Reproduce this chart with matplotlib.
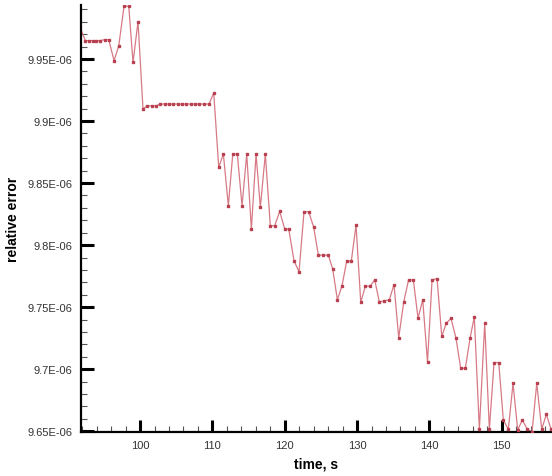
import numpy as np
import matplotlib
matplotlib.use("Agg")
import matplotlib.pyplot as plt
from matplotlib.ticker import MultipleLocator

plt.rcParams['font.family'] = ['Liberation Sans', 'DejaVu Sans']

# time, s
time_s = [91.55, 92.44, 92.95, 93.46, 93.96, 94.47, 95.12, 95.67, 96.41, 97.06,
          97.79, 98.44, 99.03, 99.72, 100.41, 101.01, 101.62, 102.21, 102.81, 103.41,
          104.01, 104.60, 105.21, 105.81, 106.40, 107.01, 107.60, 108.20, 108.81, 109.54,
          110.19, 110.88, 111.52, 112.21, 112.82, 113.45, 114.10, 114.75, 115.39, 116.04,
          116.63, 117.32, 118.01, 118.62, 119.31, 120.00, 120.56, 121.29, 121.98, 122.67,
          123.32, 124.01, 124.65, 125.34, 126.03, 126.64, 127.28, 127.92, 128.57, 129.21,
          129.86, 130.51, 131.15, 131.80, 132.44, 133.08, 133.73, 134.46, 135.11, 135.76,
          136.45, 137.12, 137.78, 138.43, 139.08, 139.74, 140.37, 141.06, 141.71, 142.34,
          142.99, 143.68, 144.33, 144.97, 145.62, 146.21, 146.91, 147.65, 148.29, 148.94,
          149.59, 150.22, 150.91, 151.56, 152.21, 152.85, 153.54, 154.19, 154.84, 155.53,
          156.17, 156.82]

# relative error, in units of 1E-06
rel_err_e6 = [9.9780, 9.9648, 9.9648, 9.9648, 9.9648, 9.9648, 9.9656, 9.9656, 9.9486, 9.9607,
              9.9925, 9.9925, 9.9473, 9.9801, 9.9097, 9.9123, 9.9123, 9.9123, 9.9137, 9.9137,
              9.9137, 9.9137, 9.9137, 9.9137, 9.9137, 9.9137, 9.9137, 9.9137, 9.9137, 9.9137,
              9.9226, 9.8627, 9.8734, 9.8317, 9.8734, 9.8734, 9.8317, 9.8734, 9.8129, 9.8734,
              9.8304, 9.8734, 9.8156, 9.8156, 9.8272, 9.8129, 9.8129, 9.7873, 9.7785, 9.8269,
              9.8269, 9.8143, 9.7919, 9.7919, 9.7919, 9.7807, 9.7559, 9.7672, 9.7872, 9.7872,
              9.8161, 9.7540, 9.7669, 9.7669, 9.7720, 9.7543, 9.7551, 9.7559, 9.7682, 9.7254,
              9.7540, 9.7720, 9.7720, 9.7411, 9.7559, 9.7057, 9.7720, 9.7730, 9.7264, 9.7371,
              9.7409, 9.7250, 9.7008, 9.7008, 9.7250, 9.7422, 9.6516, 9.7371, 9.6516, 9.7054,
              9.7054, 9.6591, 9.6516, 9.6885, 9.6511, 9.6591, 9.6516, 9.6495, 9.6885, 9.6516,
              9.6637, 9.6516]

x_ticks = [100, 110, 120, 130, 140, 150]
y_ticks_e6 = [9.65, 9.70, 9.75, 9.80, 9.85, 9.90, 9.95]
y_tick_labels = ['9.65E-06', '9.7E-06', '9.75E-06', '9.8E-06', '9.85E-06', '9.9E-06', '9.95E-06']

t = np.array(time_s)
err = np.array(rel_err_e6) * 1e-6

fig = plt.figure(figsize=(5.52, 4.77), dpi=100)
ax = fig.add_axes([80.5 / 552, 44 / 477, 1 - 80.5 / 552, (433 - 6) / 477])

ax.plot(t, err, '-', color='#d77a86', lw=0.9, zorder=2)
ax.plot(t, err, 's', color='#b8404f', ms=1.8, mec='#b8404f', zorder=3)

ax.set_xlim(91.77, 156.95)
ax.set_ylim(9.6494e-6, 9.9935e-6)

ax.set_xticks(x_ticks)
ax.set_yticks(np.array(y_ticks_e6) * 1e-6)
ax.set_yticklabels(y_tick_labels)
ax.xaxis.set_minor_locator(MultipleLocator(2))
ax.yaxis.set_minor_locator(MultipleLocator(0.01e-6))

for s in ['top', 'right']:
    ax.spines[s].set_visible(False)
for s in ['left', 'bottom']:
    ax.spines[s].set_linewidth(1.6)

ax.tick_params(which='major', direction='in', length=9, width=2.2, labelsize=8,
               labelcolor='#333333', pad=6)
ax.tick_params(which='minor', direction='in', length=4.5, width=0.8, color='#555555')

ax.set_xlabel('time, s', fontsize=10, fontweight='bold')
ax.set_ylabel('relative error', fontsize=10, fontweight='bold')
ax.xaxis.set_label_coords(0.5, -0.058)
ax.yaxis.set_label_coords(-0.128, 0.5)

fig.savefig('out.png', dpi=100)
